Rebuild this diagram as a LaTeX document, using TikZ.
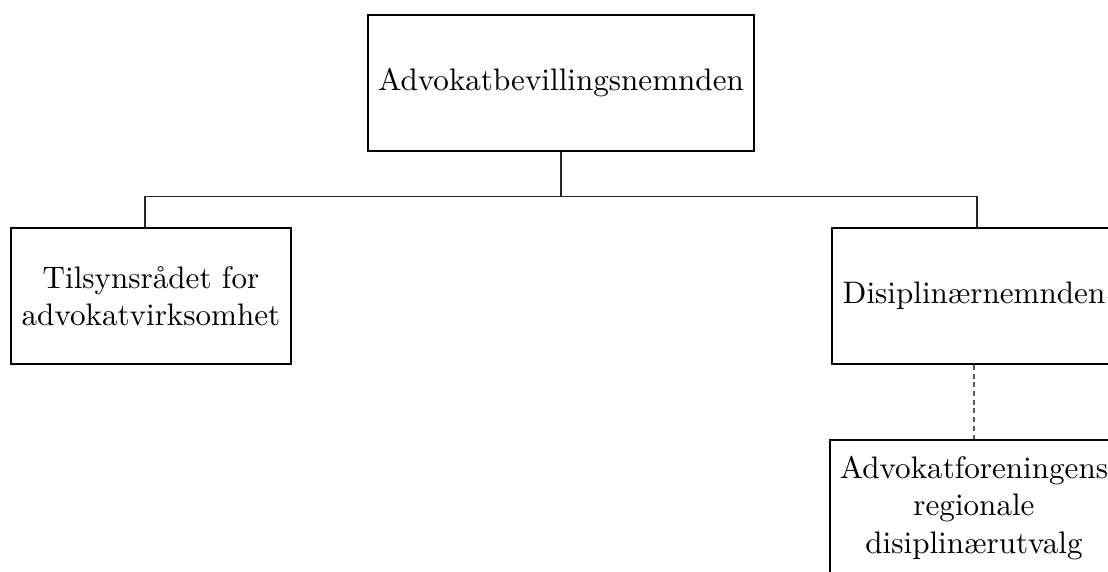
\documentclass[tikz,border=0pt]{standalone}
\usepackage{tikz}
\usetikzlibrary{positioning,calc}

\begin{document}
\begin{tikzpicture}[
  x=0.3215pt, y=-0.3215pt,
  org/.style={draw, semithick, fill=white, minimum height=43.7pt, align=center, font=\normalsize},
  link/.style={draw, line width=0.35pt, black!85},
  gap/.style={draw, line width=0.4pt, black!65, dash pattern=on 1.6pt off 1.2pt}
]
\useasboundingbox (0,0) rectangle (1108,572);

\node[org] (bevilling) at (561,83)  {Advokatbevillingsnemnden};
\node[org] (tilsyn)    at (151,296) {Tilsynsrådet for\\advokatvirksomhet};
\node[org] (disiplin)  at (974,296) {Disiplinærnemnden};
\node[org] (regional)  at (974,508) {Advokatforeningens\\regionale\\disiplinærutvalg};

% tree: one drop from the top box, one bar, two stubs
\draw[link] (bevilling.south) -- ++(0,45) coordinate (fork);
\draw[link] (fork) -| ($(tilsyn.north)+(-6,0)$);
\draw[link] (fork) -| ($(disiplin.north)+(3,0)$);

% loose tie down to the regional committees
\draw[gap] (disiplin.south) -- (regional.north);
\end{tikzpicture}
\end{document}
